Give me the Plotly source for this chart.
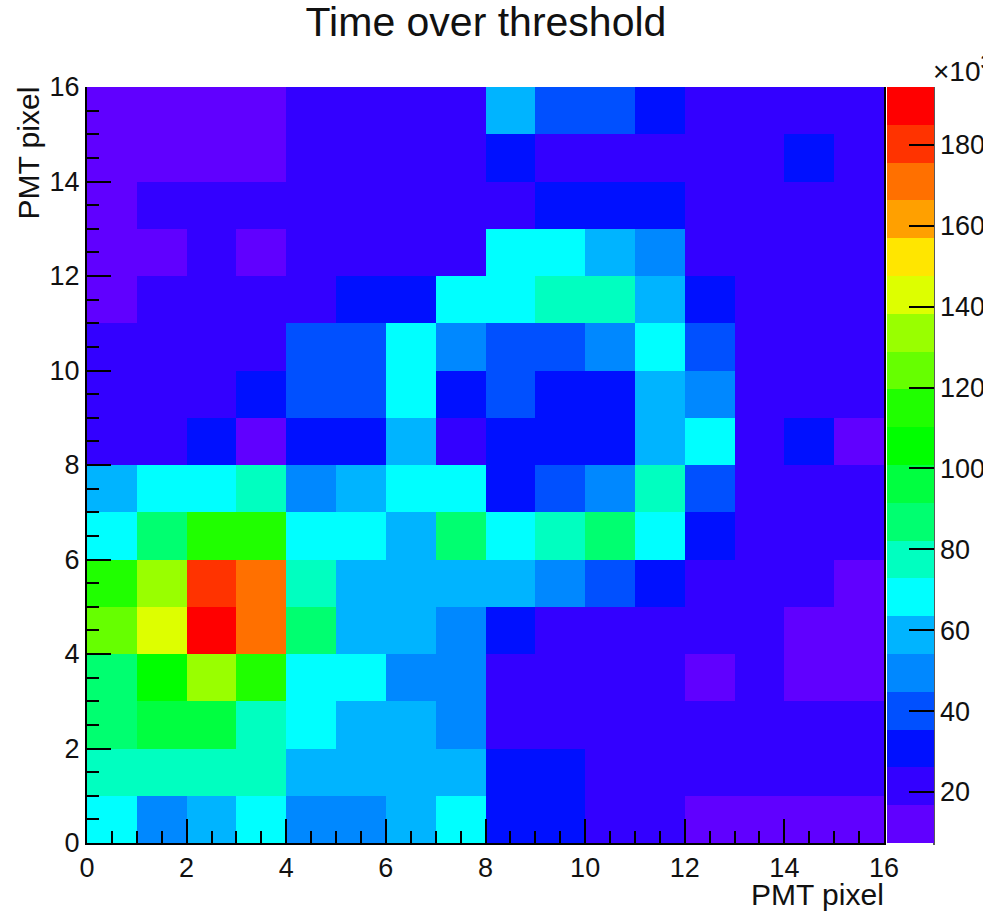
import plotly.graph_objects as go

# Bin contents, in units of 10^3, row 0 at the bottom (y 0-1), 16 columns
row_00 = [68, 49, 59, 68, 49, 49, 59, 68, 31, 31, 21, 21, 12, 12, 12, 12]
row_01 = [78, 78, 78, 78, 59, 59, 59, 59, 31, 31, 21, 21, 21, 21, 21, 21]
row_02 = [87, 96, 96, 78, 68, 59, 59, 49, 21, 21, 21, 21, 21, 21, 21, 21]
row_03 = [87, 105, 134, 115, 68, 68, 49, 49, 21, 21, 21, 21, 12, 21, 12, 12]
row_04 = [124, 143, 190, 171, 87, 59, 59, 49, 31, 21, 21, 21, 21, 21, 12, 12]
row_05 = [115, 134, 180, 171, 78, 59, 59, 59, 59, 49, 40, 31, 21, 21, 21, 12]
row_06 = [68, 87, 115, 115, 68, 68, 59, 87, 68, 78, 87, 68, 31, 21, 21, 21]
row_07 = [59, 68, 68, 78, 49, 59, 68, 68, 31, 40, 49, 78, 40, 21, 21, 21]
row_08 = [21, 21, 31, 12, 31, 31, 59, 17, 31, 31, 31, 59, 68, 21, 31, 12]
row_09 = [21, 21, 21, 31, 40, 40, 68, 31, 40, 31, 31, 59, 49, 21, 21, 21]
row_10 = [21, 21, 21, 21, 40, 40, 68, 49, 40, 40, 49, 68, 40, 21, 21, 21]
row_11 = [12, 21, 21, 21, 21, 31, 31, 68, 68, 78, 78, 59, 31, 21, 21, 21]
row_12 = [12, 12, 21, 12, 21, 21, 21, 21, 68, 68, 59, 49, 21, 21, 21, 21]
row_13 = [12, 21, 21, 21, 21, 21, 21, 21, 21, 31, 31, 31, 21, 21, 21, 21]
row_14 = [12, 12, 12, 12, 21, 21, 21, 21, 31, 21, 21, 21, 21, 21, 31, 21]
row_15 = [12, 12, 12, 12, 21, 21, 21, 21, 59, 40, 40, 31, 21, 21, 21, 21]
z_values = [row_00, row_01, row_02, row_03, row_04, row_05, row_06, row_07,
            row_08, row_09, row_10, row_11, row_12, row_13, row_14, row_15]

bin_edges_start = 0
bin_width = 1
z_min = 7.4
z_max = 194.3
z_ticks = [20, 40, 60, 80, 100, 120, 140, 160, 180]
band_colors = ["#6000ff", "#3300ff", "#0010ff", "#0050ff", "#0088ff", "#00b4ff", "#00ffff",
               "#00ffc0", "#00ff70", "#00ff40", "#00ff00", "#20ff00", "#66ff00", "#99ff00",
               "#ddff00", "#ffe600", "#ffa000", "#ff7000", "#ff3300", "#ff0000"]

n = len(band_colors)
colorscale = []
for i, c in enumerate(band_colors):
    colorscale.append([i / n, c])
    colorscale.append([(i + 1) / n, c])

FONT = "Liberation Sans"
W, H = 983, 912
L, R, T, B = 87, 884, 87, 843
PW, PH = R - L, B - T

fig = go.Figure(go.Heatmap(
    z=z_values, x0=bin_edges_start + 0.5, dx=bin_width, y0=bin_edges_start + 0.5, dy=bin_width,
    zmin=z_min, zmax=z_max, colorscale=colorscale,
    colorbar=dict(
        thickness=47, thicknessmode="pixels", len=1, lenmode="fraction", y=0, yanchor="bottom",
        x=(887 - L) / PW, xanchor="left", xpad=0, ypad=0,
        tickvals=z_ticks, ticks="inside", ticklen=25, tickwidth=1.5, tickcolor="black",
        tickfont=dict(family=FONT, size=27, color="#111"), outlinewidth=0, borderwidth=0,
    ),
))


def axis(mirror):
    return dict(
        range=[0, 16], dtick=2, tick0=0, ticks="inside", ticklen=24, tickwidth=2, tickcolor="black",
        minor=dict(dtick=0.5, ticks="inside", ticklen=12, tickwidth=2, tickcolor="black"),
        showgrid=False, zeroline=False, showline=True, linecolor="black", linewidth=2, mirror=mirror,
        tickfont=dict(family=FONT, size=27, color="#111"),
    )


fig.update_layout(
    width=W, height=H, autosize=False,
    margin=dict(l=L, r=W - R, t=T, b=H - B, pad=0, autoexpand=False),
    paper_bgcolor="white", plot_bgcolor="white",
    xaxis=axis(False), yaxis=axis(True),
    title=dict(text="Time over threshold", x=486 / W, xanchor="center", y=1 - 22 / H, yanchor="middle",
               font=dict(family=FONT, size=41, color="#111")),
    shapes=[dict(type="line", xref="paper", yref="paper", x0=(934 - L) / PW, x1=(934 - L) / PW,
                 y0=-2 / PH, y1=1, line=dict(color="#222", width=1.5))],
    annotations=[
        dict(text="PMT pixel", xref="paper", yref="paper", x=1, xanchor="right", xshift=2, y=-51 / PH,
             yanchor="middle", showarrow=False, font=dict(family=FONT, size=30, color="#111")),
        dict(text="PMT pixel", textangle=-90, xref="paper", yref="paper", x=-59 / PW, xanchor="center",
             y=1, yshift=2, yanchor="top", showarrow=False, font=dict(family=FONT, size=30, color="#111")),
        dict(text="×10<sup>3</sup>", xref="paper", yref="paper", x=(931 - L) / PW, xanchor="left",
             y=1 + 18 / PH, yanchor="middle", showarrow=False, font=dict(family=FONT, size=28, color="#111")),
    ],
)

fig.write_html("out.html", post_script="document.body.style.margin='0';",
               config={"displayModeBar": False})
